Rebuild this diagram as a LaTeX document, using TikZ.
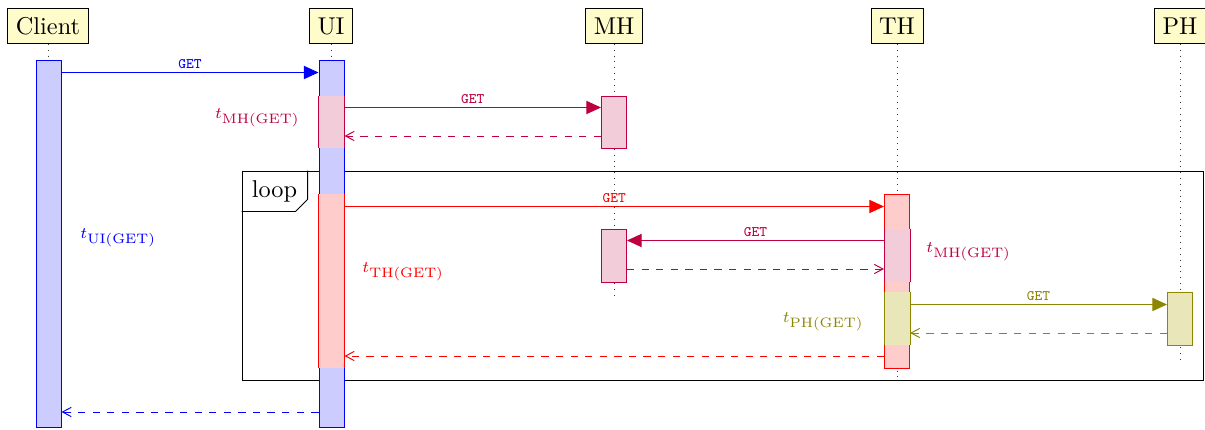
\documentclass[tikz,border=0pt]{standalone}
\usepackage{amsmath}
\usepackage{tikz}
\usetikzlibrary{arrows.meta,fit}
\DeclareMathSizes{7}{7}{6}{5}

\begin{document}
\begin{tikzpicture}
  [
  x = 0.4115pt,
  y = -0.4115pt,
  head/.style   = {draw, fill=yellow!20, minimum height=14.4pt},
  life/.style   = {dotted, black!80},
  bar/.style    = {draw=#1, fill=#1!20, inner sep=0pt},
  sub/.style    = {fill=#1!20, inner sep=0pt},
  call/.style   = {#1, -{Triangle[length=6pt,width=5.4pt]}},
  reply/.style  = {#1, dashed, -{Straight Barb[length=3.6pt,width=3.8pt]}},
  msg/.style    = {midway, above, inner sep=1.5pt,
                   font=\fontsize{6}{7}\selectfont\ttfamily},
  tlabel/.style = {text=#1, inner sep=0pt, font=\scriptsize,
                   scale=0.94, transform shape}
  ]
  \useasboundingbox (0,0) rectangle (1205,430);

  % heads and life lines
  \node [head] (client) at (48,26)   {Client};
  \node [head] (ui)     at (331,26)  {UI};
  \node [head] (mh)     at (614,26)  {MH};
  \node [head] (th)     at (897,26)  {TH};
  \node [head] (ph)     at (1180,26) {PH};
  \foreach \h/\e in {client/60, ui/60, mh/296, th/380, ph/360}
    \draw [life] (\h) -- (\h |- 0,\e);

  % loop frame
  \node [draw, fit={(242,171) (1203,380)}, inner sep=0pt] (loop) {};
  \draw (loop.north west) ++(0,41) -- ++(54,0) -- ++(12,-12) -- ++(0,-29);
  \node (looptag) at ([shift={(33,21)}]loop.north west) {loop};

  % activations
  \node [bar=blue,   fit={(36,60) (61,427)}]     (clientbar) {};
  \node [bar=blue,   fit={(319,60) (344,427)}]   (uibar)     {};
  \node [sub=purple, fit={(319,96) (344,148)}]   (uimh)      {};
  \node [sub=red,    fit={(319,194) (344,368)}]  (uith)      {};
  \node [bar=purple, fit={(601.5,96) (626.5,148)}]  (mhone) {};
  \node [bar=purple, fit={(601.5,229) (626.5,282)}] (mhtwo) {};
  \node [bar=red,    fit={(884.5,194) (909.5,368)}] (thbar) {};
  \node [sub=purple, fit={(884.5,229) (909.5,282)}] (thmh)  {};
  \node [sub=olive,  fit={(884.5,292) (909.5,345)}] (thph)  {};
  \node [bar=olive,  fit={(1167.5,292) (1192.5,345)}] (phbar) {};
  \foreach \b/\c in {uimh/purple, uith/red, thmh/purple, thph/olive}
    \draw [\c] (\b.north west) -- (\b.south west)
               (\b.north east) -- (\b.south east);

  % messages
  \foreach \m/\y in {1/72.5, 2/107.5, 3/136, 4/206.5, 5/240.5,
                     6/269, 7/304.5, 8/333, 9/356, 10/412}
    \coordinate (m\m) at (0,\y);
  \draw [call=blue]    (clientbar.east |- m1) -- (uibar.west |- m1) node [msg] {GET};
  \draw [call=purple]  (uimh.east |- m2) -- (mhone.west |- m2) node [msg] {GET};
  \draw [reply=purple] (mhone.west |- m3) -- (uimh.east |- m3);
  \draw [call=red]     (uith.east |- m4) -- (thbar.west |- m4) node [msg] {GET};
  \draw [call=purple]  (thmh.west |- m5) -- (mhtwo.east |- m5) node [msg] {GET};
  \draw [reply=purple] (mhtwo.east |- m6) -- (thmh.west |- m6);
  \draw [call=olive]   (thph.east |- m7) -- (phbar.west |- m7) node [msg] {GET};
  \draw [reply=olive]  (phbar.west |- m8) -- (thph.east |- m8);
  \draw [reply=red]    (thbar.west |- m9) -- (uith.east |- m9);
  \draw [reply=blue]   (uibar.west |- m10) -- (clientbar.east |- m10);

  % durations
  \node [tlabel=blue,   anchor=west] (tui)   at (80,238)  {$t_{\mathrm{UI(GET)}}$};
  \node [tlabel=purple, anchor=east] (tmhui) at (300,118) {$t_{\mathrm{MH(GET)}}$};
  \node [tlabel=red,    anchor=west] (tth)   at (362,272) {$t_{\mathrm{TH(GET)}}$};
  \node [tlabel=purple, anchor=west] (tmhth) at (926,252) {$t_{\mathrm{MH(GET)}}$};
  \node [tlabel=olive,  anchor=east] (tph)   at (864,322) {$t_{\mathrm{PH(GET)}}$};
\end{tikzpicture}
\end{document}
